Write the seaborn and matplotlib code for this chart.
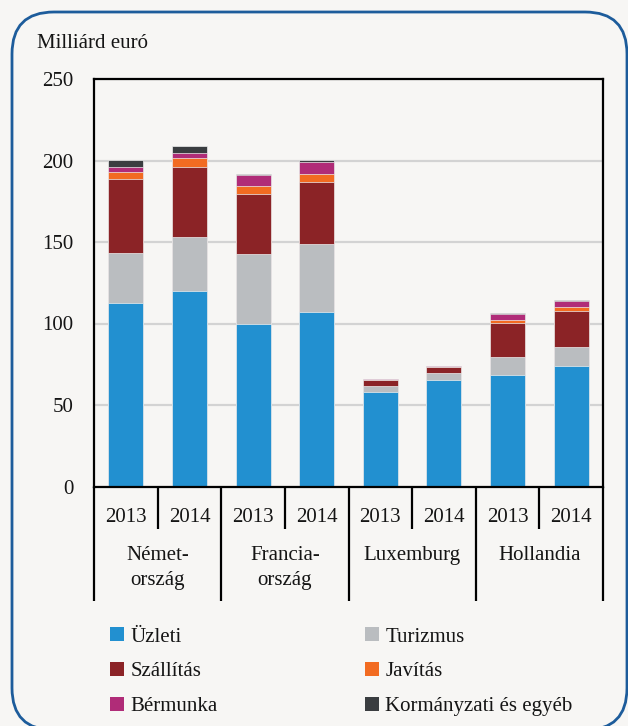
import numpy as np
import matplotlib.pyplot as plt
import seaborn as sns
from matplotlib.patches import FancyBboxPatch, Patch

# Szolgáltatásexport (milliárd euró)
orszagok = ["Német-\nország", "Francia-\nország", "Luxemburg", "Hollandia"]
evek = ["2013", "2014"]
oszlopok = ["DE13", "DE14", "FR13", "FR14", "LU13", "LU14", "NL13", "NL14"]

uzleti = [112.3, 120.1, 99.7, 106.8, 58.2, 65.6, 68.6, 74.1]
turizmus = [31.1, 32.7, 42.9, 41.7, 3.7, 4.3, 10.6, 11.7]
szallitas = [45.1, 43.5, 37.1, 38.6, 3.5, 3.4, 20.9, 21.6]
javitas = [4.5, 5.3, 4.7, 4.9, 0.2, 0.2, 2.0, 2.5]
bermunka = [3.1, 3.3, 6.8, 7.3, 0.2, 0.2, 3.7, 3.6]
kormanyzati = [4.1, 4.0, 0.4, 0.9, 0.1, 0.2, 0.8, 0.9]

sorozatok = ["Üzleti", "Turizmus", "Szállítás", "Javítás", "Bérmunka", "Kormányzati és egyéb"]
ertekek = [uzleti, turizmus, szallitas, javitas, bermunka, kormanyzati]
szinek = ["#2290d0", "#babdc0", "#8b2326", "#f26b21", "#b02c78", "#3a3d40"]

hatter = "#f7f6f4"
szoveg = "#151515"
sns.set_theme(style="white")
plt.rcParams["font.family"] = ["Liberation Serif", "DejaVu Serif"]
plt.rcParams["font.size"] = 15

fig = plt.figure(figsize=(6.28, 7.26), dpi=100, facecolor=hatter)
ax = fig.add_axes([94 / 628, 1 - 486.5 / 726, 509 / 628, 407.5 / 726])
ax.set_facecolor(hatter)

# halmozott oszlopok: összegek felülről lefelé rajzolva
kumulalt = np.cumsum(np.array(ertekek), axis=0)
for i in range(len(sorozatok) - 1, -1, -1):
    sns.barplot(x=oszlopok, y=kumulalt[i], color=szinek[i], saturation=1,
                width=0.55, errorbar=None, ax=ax, zorder=2,
                edgecolor="#eeeeee", linewidth=0.5)

ax.set_xlim(-0.5, len(oszlopok) - 0.5)
ax.set_ylim(0, 250)
ax.set_yticks([0, 50, 100, 150, 200, 250])
ax.yaxis.grid(True, color="#d3d3d3", linewidth=1.6, zorder=0)
ax.set_axisbelow(True)
ax.set_xlabel("")
ax.set_ylabel("")
ax.set_xticks([])
ax.tick_params(axis="y", length=0, pad=15, labelsize=15, colors=szoveg)
for s in ax.spines.values():
    s.set_color("black")
    s.set_linewidth(1.6)

# kétszintű x tengely
trans = ax.get_xaxis_transform()
for i, lab in enumerate(oszlopok):
    ax.text(i, -0.075, evek[i % 2], transform=trans, ha="center", va="center",
            fontsize=15, color=szoveg)
for j, orsz in enumerate(orszagok):
    ax.text(2 * j + 0.5, -0.145, orsz, transform=trans, ha="center", va="top",
            fontsize=15, color=szoveg, linespacing=1.45)
for k in range(len(oszlopok) + 1):
    x = k - 0.5
    alja = -0.28 if k % 2 == 0 else -0.105
    ax.plot([x, x], [0, alja], transform=trans, color="black", lw=1.6,
            clip_on=False, solid_capstyle="butt")

fig.text(37 / 628, 1 - 44 / 726, "Milliárd euró", ha="left", va="center",
         fontsize=15, color=szoveg)

# jelmagyarázat két oszlopban
kezelok = [Patch(facecolor=c, edgecolor="none") for c in szinek]
for col, x0 in enumerate([102 / 628, 357 / 628]):
    idx = [col, col + 2, col + 4]
    fig.legend([kezelok[i] for i in idx], [sorozatok[i] for i in idx],
               loc="upper left", bbox_to_anchor=(x0, 1 - 619 / 726),
               frameon=False, fontsize=15, handlelength=0.65, handleheight=0.65,
               handletextpad=0.3, labelspacing=0.75, borderaxespad=0,
               labelcolor=szoveg)

# lekerekített keret
keret = FancyBboxPatch((0.12, -0.04), 6.15, 7.18,
                       boxstyle="round,pad=0,rounding_size=0.42",
                       transform=fig.dpi_scale_trans, facecolor="none",
                       edgecolor="#1d5c9b", linewidth=2, zorder=-1)
fig.patches.append(keret)

fig.savefig("out.png", dpi=100, facecolor=hatter)
